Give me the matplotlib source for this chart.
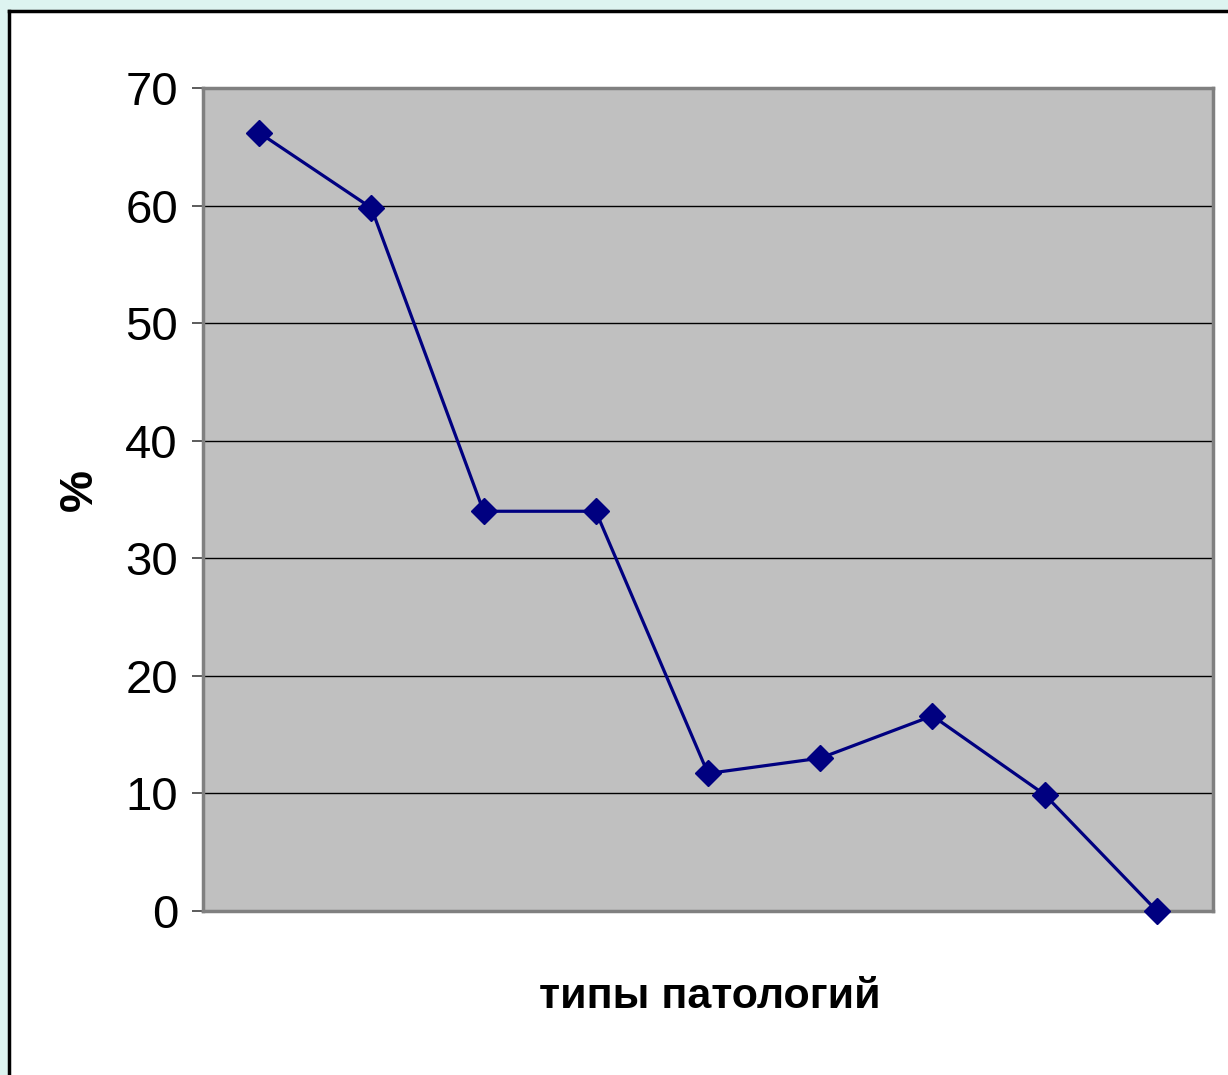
import numpy as np
import matplotlib
matplotlib.use('Agg')
from matplotlib import pyplot as plt
from matplotlib.patches import Rectangle

# data
categories = ['1', '2', '3', '4', '5', '6', '7', '8', '9']
values = [66.2, 59.8, 34.0, 34.0, 11.7, 13.0, 16.6, 9.9, 0.0]
yticks = [0, 10, 20, 30, 40, 50, 60, 70]
xlabel = 'типы патологий'
ylabel = '%'

W, H = 1228, 1075
fig = plt.figure(figsize=(W/100., H/100.), dpi=100)
fig.patch.set_facecolor('#ddf4f0')

# white panel with black frame (left/top)
fig.patches.append(Rectangle((8/W, 0), 1.0, 1-11/H, transform=fig.transFigure,
                             facecolor='white', edgecolor='none', zorder=-2))
fig.add_artist(plt.Line2D([8.5/W, 8.5/W], [0, 1-10.5/H], transform=fig.transFigure,
                          color='black', lw=2.5))
fig.add_artist(plt.Line2D([8.5/W, 1], [1-10.5/H, 1-10.5/H], transform=fig.transFigure,
                          color='black', lw=2.5))

x0, x1 = 203, 1213
y0, y1 = 88, 911
ax = fig.add_axes([x0/W, 1-y1/H, (x1-x0)/W, (y1-y0)/H])
ax.set_facecolor('#c0c0c0')

x = np.arange(len(categories))
ax.plot(x, values, color='#000080', lw=2.3, marker='D', ms=13, mfc='#000080', mec='#000080',
        clip_on=False, zorder=3)

ax.set_xlim(-0.5, len(categories)-0.5)
ax.set_ylim(0, 70)
ax.set_yticks(yticks)
ax.set_xticks([])
ax.yaxis.grid(True, color='black', lw=1)
ax.set_axisbelow(True)
for s in ax.spines.values():
    s.set_color('#808080')
    s.set_linewidth(2.5)
ax.tick_params(axis='y', direction='out', length=8, width=1.2, color='#404040', pad=10)
for lab in ax.get_yticklabels():
    lab.set_family(['Liberation Sans Narrow', 'Liberation Sans', 'DejaVu Sans'])
    lab.set_fontsize(34)

fig.text(710/W, 1-997/H, xlabel, ha='center', va='center', fontsize=31, fontweight='bold',
         family=['Liberation Sans', 'DejaVu Sans'])
fig.text(80/W, 1-490/H, ylabel, ha='center', va='center', rotation=90, fontsize=34,
         fontweight='bold', family=['Liberation Sans', 'DejaVu Sans'])

plt.savefig('out.png', dpi=100, facecolor=fig.get_facecolor())
